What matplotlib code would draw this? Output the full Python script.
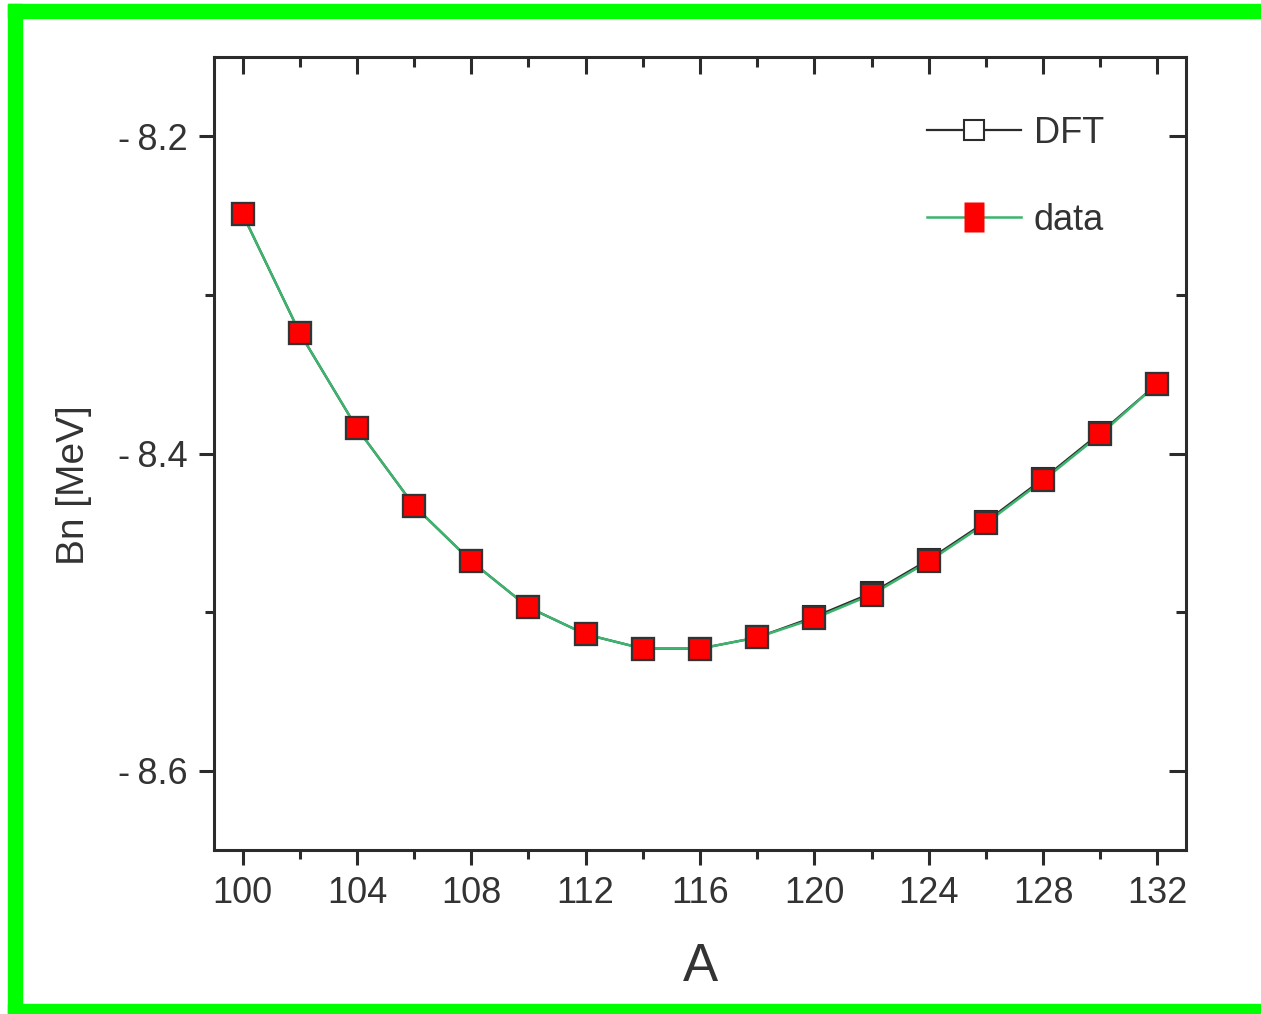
import numpy as np
import matplotlib
matplotlib.use('Agg')
import matplotlib.pyplot as plt
from matplotlib.lines import Line2D
from matplotlib.patches import Rectangle
from matplotlib.path import Path
from matplotlib.ticker import MultipleLocator, FixedLocator

plt.rcParams['font.family'] = ['Liberation Sans', 'DejaVu Sans']

# mass number A and neutron binding energy Bn [MeV]
mass_a = [100, 102, 104, 106, 108, 110, 112, 114, 116, 118, 120, 122, 124, 126, 128, 130, 132]
bn_dft = [-8.249, -8.324, -8.384, -8.433, -8.468, -8.497, -8.514, -8.523, -8.523,
          -8.516, -8.503, -8.488, -8.467, -8.443, -8.416, -8.387, -8.356]
bn_data = [-8.249, -8.324, -8.384, -8.433, -8.468, -8.497, -8.514, -8.523, -8.523,
           -8.516, -8.504, -8.489, -8.468, -8.444, -8.417, -8.388, -8.356]

x_major = [100, 104, 108, 112, 116, 120, 124, 128, 132]
y_major = [-8.6, -8.4, -8.2]
y_labels = ['-\u20098.6', '-\u20098.4', '-\u20098.2']

ink = '#2b2b2b'
green = '#3cb46e'

fig = plt.figure(figsize=(12.61, 10.14), dpi=100)
ax = fig.add_axes([214 / 1261, 1 - 850 / 1014, (1186 - 214) / 1261, (850 - 57) / 1014])

ax.plot(mass_a, bn_dft, color=ink, lw=1.6, marker='s', ms=16, mfc='white', mec=ink, mew=1.5, zorder=2)
ax.plot(mass_a, bn_data, color=green, lw=1.8, marker='s', ms=16, mfc='#ff0000', mec='#333333', mew=1.6, zorder=3)

ax.set_xlim(99, 133)
ax.set_ylim(-8.65, -8.15)

ax.xaxis.set_major_locator(FixedLocator(x_major))
ax.xaxis.set_minor_locator(MultipleLocator(2))
ax.set_yticks(y_major)
ax.set_yticklabels(y_labels)
ax.yaxis.set_minor_locator(MultipleLocator(0.1))

for side in ax.spines.values():
    side.set_linewidth(2.2)
    side.set_color(ink)

ax.tick_params(axis='both', which='both', color=ink, width=2.2, labelcolor='#333333')
ax.tick_params(axis='both', which='major', length=11, labelsize=26, pad=8)
ax.tick_params(axis='both', which='minor', length=6.5)

# secondary ticks pointing inward on top/right
ax_top = ax.secondary_xaxis('top')
ax_top.xaxis.set_major_locator(FixedLocator(x_major))
ax_top.xaxis.set_minor_locator(MultipleLocator(2))
ax_top.tick_params(which='both', direction='in', color=ink, width=2.2, labeltop=False)
ax_top.tick_params(which='major', length=12)
ax_top.tick_params(which='minor', length=7)
ax_top.spines['top'].set_visible(False)

ax_right = ax.secondary_yaxis('right')
ax_right.set_yticks(y_major)
ax_right.yaxis.set_minor_locator(MultipleLocator(0.1))
ax_right.tick_params(which='both', direction='in', color=ink, width=2.2, labelright=False)
ax_right.tick_params(which='major', length=12)
ax_right.tick_params(which='minor', length=7)
ax_right.spines['right'].set_visible(False)

ax.set_xlabel('A', fontsize=38, color='#333333', labelpad=22)
ax.set_ylabel('Bn [MeV]', fontsize=28, color='#333333')
ax.yaxis.set_label_coords(-0.126, 0.46)

# legend with a tall red block for the data entry
tall = Path([(-0.5, -0.75), (0.5, -0.75), (0.5, 0.75), (-0.5, 0.75), (-0.5, -0.75)],
            [Path.MOVETO, Path.LINETO, Path.LINETO, Path.LINETO, Path.CLOSEPOLY])
h_dft = Line2D([], [], color=ink, lw=1.6, marker='s', ms=15, mfc='white', mec=ink, mew=1.5)
h_data = Line2D([], [], color=green, lw=1.8, marker=tall, ms=22, mfc='#ff0000', mec='none')
ax.legend([h_dft, h_data], ['DFT', 'data'], loc='upper right', bbox_to_anchor=(0.949, 0.967),
          frameon=False, fontsize=26, handlelength=2.6, handletextpad=0.35,
          labelspacing=1.45, labelcolor='#333333')

# bright green frame on left, top, bottom
frame = '#00ff00'
fig.patches.append(Rectangle((8 / 1261, 0), 14 / 1261, 1 - 4 / 1014, transform=fig.transFigure,
                             color=frame, zorder=10))
fig.patches.append(Rectangle((8 / 1261, 1 - 18 / 1014), 1, 14 / 1014, transform=fig.transFigure,
                             color=frame, zorder=10))
fig.patches.append(Rectangle((8 / 1261, 0), 1, 10 / 1014, transform=fig.transFigure,
                             color=frame, zorder=10))

fig.savefig('out.png', dpi=100)
